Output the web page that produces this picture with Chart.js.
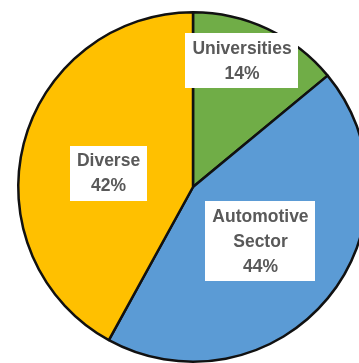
<!DOCTYPE html>
<html>
<head>
<meta charset="utf-8">
<script src="https://cdn.jsdelivr.net/npm/chart.js@4.4.1/dist/chart.umd.min.js"></script>
<style>
  html, body { margin: 0; padding: 0; background: #ffffff; overflow: hidden; width: 359px; height: 363px; }
  #wrap { position: absolute; left: 0; top: 0; width: 386px; height: 374px; }
</style>
</head>
<body>
<div id="wrap"><canvas id="pie" width="386" height="374"></canvas></div>
<script>
// Share of activity by sector
const categories = ['Universities', 'Automotive Sector', 'Diverse'];
const labelLines = [['Universities'], ['Automotive', 'Sector'], ['Diverse']];
const shares = [14, 44, 42];
const sliceColors = ['#70AD47', '#5B9BD5', '#FFC000'];

// Label placement: fraction of the radius and angular nudge (degrees) from each slice's middle
const labelPlacement = [
  { radius: 0.776, nudge: -4 },
  { radius: 0.494, nudge: -1 },
  { radius: 0.49, nudge: -5 }
];

const boxLabels = {
  id: 'boxLabels',
  afterDatasetsDraw(chart) {
    const ctx = chart.ctx;
    const meta = chart.getDatasetMeta(0);
    const lineH = 25;
    ctx.save();
    ctx.font = 'bold 17.5px "Liberation Sans", Arial, sans-serif';
    ctx.textAlign = 'center';
    ctx.textBaseline = 'middle';
    meta.data.forEach((arc, i) => {
      const p = arc.getProps(['x', 'y', 'startAngle', 'endAngle', 'outerRadius'], true);
      const mid = (p.startAngle + p.endAngle) / 2 + labelPlacement[i].nudge * Math.PI / 180;
      const r = p.outerRadius * labelPlacement[i].radius;
      const cx = p.x + Math.cos(mid) * r;
      const cy = p.y + Math.sin(mid) * r;
      const lines = labelLines[i].concat([shares[i] + '%']);
      const w = Math.max(...lines.map(t => ctx.measureText(t).width)) + 14;
      const h = lines.length * lineH + 5;
      ctx.fillStyle = '#ffffff';
      ctx.fillRect(Math.round(cx - w / 2), Math.round(cy - h / 2), Math.round(w), Math.round(h));
      ctx.fillStyle = '#595959';
      lines.forEach((t, k) => {
        ctx.fillText(t, cx, cy - (lines.length - 1) * lineH / 2 + k * lineH + 1);
      });
    });
    ctx.restore();
  }
};

new Chart(document.getElementById('pie'), {
  type: 'pie',
  data: {
    labels: categories,
    datasets: [{
      data: shares,
      backgroundColor: sliceColors,
      borderColor: '#111111',
      borderWidth: 2.5
    }]
  },
  options: {
    responsive: false,
    devicePixelRatio: 1,
    animation: false,
    layout: { padding: { top: 11, bottom: 11, left: 0, right: 0 } },
    plugins: {
      legend: { display: false },
      tooltip: { enabled: false }
    }
  },
  plugins: [boxLabels]
});
</script>
</body>
</html>
